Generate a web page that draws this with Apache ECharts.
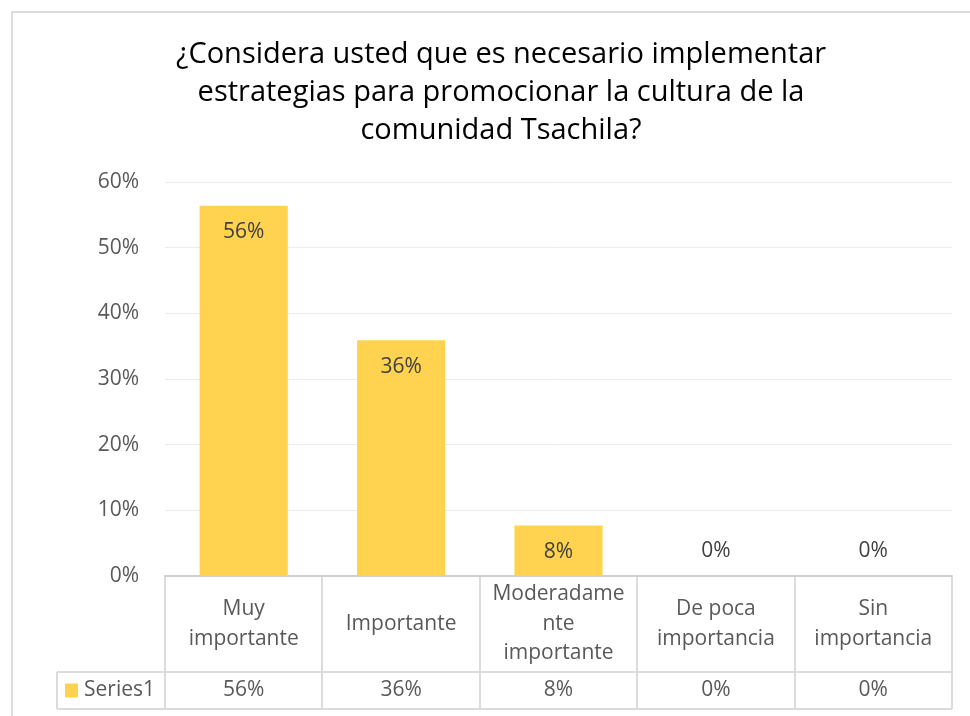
<!DOCTYPE html>
<html>
<head>
<meta charset="utf-8">
<script src="https://cdn.jsdelivr.net/npm/echarts@6/dist/echarts.min.js"></script>
<style>
  html, body { margin: 0; padding: 0; background: #fff; }
  #chart { width: 970px; height: 716px; }
</style>
</head>
<body>
<div id="chart"></div>
<script>
// data
const titleLines = [
  '¿Considera usted que es necesario implementar',
  'estrategias para promocionar la cultura de la',
  'comunidad Tsachila?'
];
const categories = [
  ['Muy', 'importante'],
  ['Importante'],
  ['Moderadame', 'nte', 'importante'],
  ['De poca', 'importancia'],
  ['Sin', 'importancia']
];
const seriesName = 'Series1';
const values = [0.564, 0.359, 0.077, 0, 0];
const yTicks = [0, 0.1, 0.2, 0.3, 0.4, 0.5, 0.6];

const barColor = '#FFD34F';
const textColor = '#595959';
const lineColor = '#dcdcdc';
const font = '"Open Sans", Lato, sans-serif';

const pct = v => Math.round(v * 100) + '%';

const chart = echarts.init(document.getElementById('chart'));

chart.setOption({
  animation: false,
  title: {
    text: titleLines.join('\n'),
    left: 496,
    textAlign: 'center',
    top: 31,
    textStyle: {
      fontFamily: font,
      fontSize: 29,
      fontWeight: 'normal',
      color: '#000',
      lineHeight: 38
    }
  },
  grid: { left: 165, right: 18, top: 182, bottom: 140 },
  xAxis: {
    type: 'category',
    data: categories.map(c => c.join(' ')),
    axisTick: { show: false },
    axisLabel: { show: false },
    axisLine: { lineStyle: { color: '#cfcfcf', width: 2 } }
  },
  yAxis: {
    type: 'value',
    min: yTicks[0],
    max: yTicks[yTicks.length - 1],
    interval: 0.1,
    axisLine: { show: false },
    axisTick: { show: false },
    axisLabel: {
      formatter: pct,
      color: textColor,
      fontFamily: font,
      fontSize: 21,
      margin: 26
    },
    splitLine: { lineStyle: { color: '#ececec', width: 1 } }
  },
  series: [{
    name: seriesName,
    type: 'bar',
    barWidth: '56%',
    itemStyle: { color: barColor },
    data: values.map(v => ({
      value: v,
      label: v > 0
        ? { show: true, position: 'insideTop', distance: 16 }
        : { show: true, position: 'top', distance: 14 }
    })),
    label: {
      formatter: p => pct(p.value),
      color: '#404040',
      fontFamily: font,
      fontSize: 21
    }
  }]
});

// data table under the axis, placed from the axis scales
function drawTable () {
  const x0 = chart.convertToPixel({ xAxisIndex: 0 }, 0);
  const x1 = chart.convertToPixel({ xAxisIndex: 0 }, 1);
  const half = (x1 - x0) / 2;
  const yAxis = chart.convertToPixel({ yAxisIndex: 0 }, 0);
  const rowSplit = yAxis + 96;
  const bottom = yAxis + 133;
  const left = 57;
  const first = x0 - half;
  const last = chart.convertToPixel({ xAxisIndex: 0 }, categories.length - 1) + half;
  const ln = (a, b, c, d) => ({
    type: 'line', silent: true,
    shape: { x1: a, y1: b, x2: c, y2: d },
    style: { stroke: lineColor, lineWidth: 2 }
  });
  const els = [];
  // outer border of the chart area
  els.push({
    type: 'rect', silent: true,
    shape: { x: 12, y: 12, width: 980, height: 720 },
    style: { fill: null, stroke: lineColor, lineWidth: 2 }
  });
  els.push(ln(left, rowSplit, last, rowSplit));
  els.push(ln(left, bottom, last, bottom));
  els.push(ln(left, rowSplit, left, bottom));
  for (let i = 0; i <= categories.length; i++) {
    const x = Math.round(first + i * 2 * half);
    els.push(ln(x, yAxis + 1, x, bottom));
  }
  categories.forEach((c, i) => {
    const cx = chart.convertToPixel({ xAxisIndex: 0 }, i);
    els.push({
      type: 'text', silent: true,
      style: {
        x: cx, y: (yAxis + rowSplit) / 2,
        text: c.join('\n'),
        align: 'center', verticalAlign: 'middle',
        fontFamily: font, fontSize: 21, lineHeight: 29.5,
        fill: textColor
      }
    });
    els.push({
      type: 'text', silent: true,
      style: {
        x: cx, y: (rowSplit + bottom) / 2,
        text: pct(values[i]),
        align: 'center', verticalAlign: 'middle',
        fontFamily: font, fontSize: 21,
        fill: textColor
      }
    });
  });
  els.push({
    type: 'rect', silent: true,
    shape: { x: 65, y: (rowSplit + bottom) / 2 - 7, width: 13, height: 14 },
    style: { fill: barColor }
  });
  els.push({
    type: 'text', silent: true,
    style: {
      x: 84, y: (rowSplit + bottom) / 2,
      text: seriesName,
      align: 'left', verticalAlign: 'middle',
      fontFamily: font, fontSize: 21,
      fill: textColor
    }
  });
  chart.setOption({ graphic: { elements: els } });
}
drawTable();
</script>
</body>
</html>
